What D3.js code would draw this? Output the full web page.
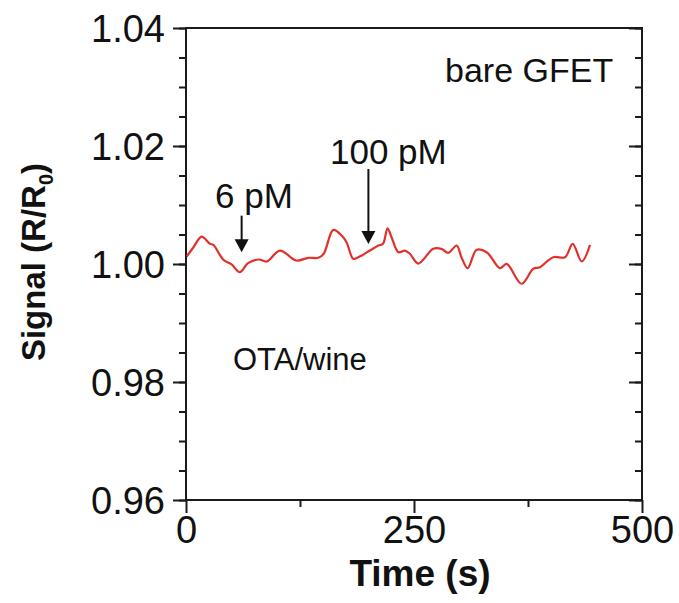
<!DOCTYPE html>
<html>
<head>
<meta charset="utf-8">
<script src="https://cdn.jsdelivr.net/npm/d3@7"></script>
<style>
  body { margin: 0; background: #fff; }
  text { font-family: "Liberation Sans", Arial, sans-serif; }
</style>
</head>
<body>
<div id="chart"></div>
<script>
// Dades llegides de la figura
const time = [0.8, 8, 17.2, 26.3, 30, 41, 50, 59, 68, 80, 88.5, 103, 121, 134, 145, 151,
  161.5, 170.7, 176, 183.4, 189, 201.7, 211, 216, 221, 225.4, 232.9, 240, 245.5, 254.7,
  271, 280, 287.6, 296.8, 302, 308.8, 318.7, 329.7, 344.3, 351.6, 368, 380.8, 388,
  402.7, 415.6, 424, 433.9, 443];
const signal = [1.00127, 1.0028, 1.00465, 1.00342, 1.00325, 1.00071, 0.99992, 0.99861,
  1.00014, 1.00076, 1.00042, 1.00228, 1.00059, 1.00105, 1.00105, 1.00173, 1.00578,
  1.00482, 1.00369, 1.00088, 1.00115, 1.00228, 1.00313, 1.00342, 1.00605, 1.00453,
  1.002, 1.00228, 1.00173, 1.00008, 1.00257, 1.00257, 1.00189, 1.00313, 1.00115,
  0.99929, 1.0024, 1.002, 0.99929, 1.00003, 0.99665, 0.99919, 0.99946, 1.00115,
  1.00115, 1.00342, 1.00042, 1.00325];

// Fletxes d'addició
const arrowLabels = ["6 pM", "100 pM"];
const arrowTime = [61, 200];
const arrowTop = [1.0082, 1.0161];
const arrowTip = [1.0020, 1.0034];

const xTicks = [0, 250, 500];
const yTicks = [0.96, 0.98, 1.00, 1.02, 1.04];

// Dimensions
const W = 679, H = 603;
const margin = { top: 28, right: 37, bottom: 103, left: 186 };
const width = W - margin.left - margin.right;
const height = H - margin.top - margin.bottom;

const svg = d3.select("#chart")
    .append("svg")
        .attr("width", W)
        .attr("height", H);

const g = svg.append("g")
    .attr("transform", `translate(${margin.left}, ${margin.top})`);

const x = d3.scaleLinear().domain([0, 500]).range([0, width]);
const y = d3.scaleLinear().domain([0.96, 1.04]).range([height, 0]);

const axisColor = "#1a1a1a";

// Eix Y esquerra: majors + menors
g.append("g")
    .call(d3.axisLeft(y).tickValues(d3.range(0.96, 1.0401, 0.005)).tickSize(7).tickFormat(""))
    .call(s => s.select(".domain").remove());
g.append("g")
    .call(d3.axisLeft(y).tickValues(yTicks).tickSize(13).tickPadding(8)
        .tickFormat(d3.format(".2f")))
    .call(s => s.select(".domain").remove())
    .call(s => s.selectAll("text").style("font-size", "38px").attr("dy", "0.35em"));

// Eix Y dret: ticks cap a dins
g.append("g")
    .attr("transform", `translate(${width}, 0)`)
    .call(d3.axisLeft(y).tickValues(d3.range(0.96, 1.0401, 0.005)).tickSize(7).tickFormat(""))
    .call(s => s.select(".domain").remove());
g.append("g")
    .attr("transform", `translate(${width}, 0)`)
    .call(d3.axisLeft(y).tickValues(yTicks).tickSize(13).tickFormat(""))
    .call(s => s.select(".domain").remove());

// Eix X
g.append("g")
    .attr("transform", `translate(0, ${height})`)
    .call(d3.axisBottom(x).tickValues([125, 375]).tickSize(7).tickFormat(""))
    .call(s => s.select(".domain").remove());
g.append("g")
    .attr("transform", `translate(0, ${height})`)
    .call(d3.axisBottom(x).tickValues(xTicks).tickSize(13).tickPadding(3))
    .call(s => s.select(".domain").remove())
    .call(s => s.selectAll("text").style("font-size", "38px").attr("dy", "0.71em"));

g.selectAll(".tick line").attr("stroke", axisColor).attr("stroke-width", 2);
g.selectAll(".tick text").attr("fill", "#111");

// Marc
g.append("rect")
    .attr("width", width)
    .attr("height", height)
    .attr("fill", "none")
    .attr("stroke", axisColor)
    .attr("stroke-width", 2);

// Corba
const data = time.map((t, i) => ({ t: t, v: signal[i] }));
g.append("path")
    .datum(data)
    .attr("fill", "none")
    .attr("stroke", "#e2312b")
    .attr("stroke-width", 2.2)
    .attr("d", d3.line().x(d => x(d.t)).y(d => y(d.v)).curve(d3.curveCatmullRom.alpha(0.5)));

// Fletxes
arrowTime.forEach((t, i) => {
    const ax = x(t), y0 = y(arrowTop[i]), y1 = y(arrowTip[i]);
    g.append("line")
        .attr("x1", ax).attr("x2", ax)
        .attr("y1", y0).attr("y2", y1 - 12)
        .attr("stroke", "#111")
        .attr("stroke-width", 2);
    g.append("path")
        .attr("d", `M${ax - 7},${y1 - 13} L${ax + 7},${y1 - 13} L${ax},${y1} Z`)
        .attr("fill", "#111");
});

// Etiquetes
g.append("text").attr("x", 29).attr("y", 180).text(arrowLabels[0])
    .style("font-size", "35px").attr("fill", "#111");
g.append("text").attr("x", 144).attr("y", 136).text(arrowLabels[1])
    .style("font-size", "35px").attr("fill", "#111");
g.append("text").attr("x", 259).attr("y", 54).text("bare GFET")
    .style("font-size", "34px").attr("fill", "#111");
g.append("text").attr("x", 47).attr("y", 342).text("OTA/wine")
    .style("font-size", "31px").attr("fill", "#111");

// Títols d'eixos
svg.append("text")
    .attr("x", 420)
    .attr("y", 586)
    .attr("text-anchor", "middle")
    .style("font-size", "37px")
    .style("font-weight", "bold")
    .attr("fill", "#111")
    .text("Time (s)");

const yt = svg.append("text")
    .attr("transform", "translate(45, 262) rotate(-90)")
    .attr("text-anchor", "middle")
    .style("font-size", "33px")
    .style("font-weight", "bold")
    .attr("fill", "#111");
yt.append("tspan").text("Signal  (R/R");
yt.append("tspan").attr("dy", 8).style("font-size", "20px").text("0");
yt.append("tspan").attr("dy", -8).text(")");
</script>
</body>
</html>
